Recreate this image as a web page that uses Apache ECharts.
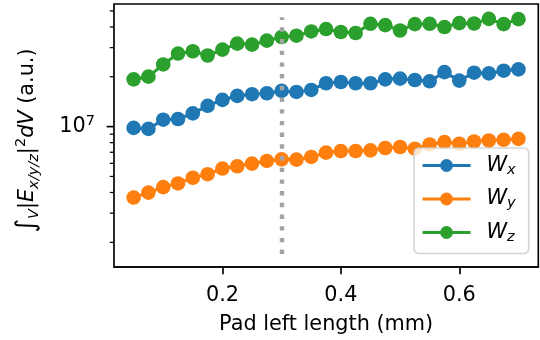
<!DOCTYPE html>
<html>
<head>
<meta charset="utf-8">
<script src="https://cdn.jsdelivr.net/npm/echarts@6/dist/echarts.min.js"></script>
<style>html,body{margin:0;padding:0;background:#fff}#c{width:540px;height:340px}</style>
</head>
<body>
<div id="c"></div>
<script>
// ---- data ----
const padLength = [0.05,0.075,0.1,0.125,0.15,0.175,0.2,0.225,0.25,0.275,0.3,0.325,0.35,0.375,0.4,0.425,0.45,0.475,0.5,0.525,0.55,0.575,0.6,0.625,0.65,0.675,0.7];
const Wx = [9.82e6,9.69e6,1.101e7,1.112e7,1.203e7,1.336e7,1.451e7,1.533e7,1.570e7,1.591e7,1.643e7,1.620e7,1.665e7,1.827e7,1.860e7,1.827e7,1.827e7,1.930e7,1.949e7,1.912e7,1.878e7,2.135e7,1.896e7,2.117e7,2.097e7,2.177e7,2.216e7];
const Wy = [3.727e6,3.993e6,4.312e6,4.537e6,4.909e6,5.160e6,5.580e6,5.760e6,5.978e6,6.205e6,6.344e6,6.318e6,6.557e6,6.962e6,7.126e6,7.126e6,7.185e6,7.426e6,7.528e6,7.354e6,7.803e6,8.065e6,7.879e6,8.131e6,8.244e6,8.324e6,8.437e6];
const Wz = [1.930e7,2.004e7,2.374e7,2.763e7,2.852e7,2.688e7,2.919e7,3.171e7,3.128e7,3.305e7,3.478e7,3.541e7,3.757e7,3.884e7,3.727e7,3.676e7,4.178e7,4.104e7,3.809e7,4.160e7,4.178e7,3.993e7,4.218e7,4.196e7,4.476e7,4.160e7,4.458e7];
const seriesNames = ['Wx','Wy','Wz'];
const seriesSubs = ['x','y','z'];
const xRange = [0.01686, 0.7335];
const yRange = [1.419e6, 5.504e7];
const xTicks = [0.2, 0.4, 0.6];
const yMajorTicks = [1e7];
const yMinorTicks = [2e6,3e6,4e6,5e6,6e6,7e6,8e6,9e6,2e7,3e7,4e7,5e7];
const refLineX = 0.3;
const refLineY = [1.70e6, 4.58e7];

const FONT = 'DejaVu Sans';
const FS = 20.8, FSS = 14.6;
const colors = ['#1f77b4','#ff7f0e','#2ca02c'];

const chart = echarts.init(document.getElementById('c'), null, {renderer:'canvas'});

function lineSeries(name, vals, i) {
  const s = {
    name, type:'line', data: padLength.map((x,k)=>[x, vals[k]]),
    symbol:'circle', symbolSize:14.6, showSymbol:true,
    lineStyle:{width:3.1, color:colors[i]},
    itemStyle:{color:colors[i]},
    emphasis:{disabled:true}, animation:false, z:2
  };
  if (i === 0) {
    s.markLine = {
      silent:true, symbol:['none','none'], label:{show:false},
      lineStyle:{color:'#a3a3a3', width:4.4, type:[4.4,7.3], cap:'butt'},
      data:[[{coord:[refLineX, refLineY[0]]},{coord:[refLineX, refLineY[1]]}]],
      animation:false
    };
  }
  return s;
}

const tickData = yMajorTicks.map(v=>[xRange[0], v, 1]).concat(yMinorTicks.map(v=>[xRange[0], v, 0]));

const option = {
  animation:false,
  backgroundColor:'#fff',
  textStyle:{fontFamily:FONT},
  grid:{left:114, top:4, right:1.7, bottom:70.7, show:true, borderColor:'#000', borderWidth:1.67, backgroundColor:'transparent'},
  xAxis:{
    type:'value', min:xRange[0], max:xRange[1],
    name:'Pad left length (mm)', nameLocation:'middle', nameGap:47,
    nameTextStyle:{fontFamily:FONT, fontSize:FS, color:'#000'},
    axisLine:{show:true, lineStyle:{color:'#000', width:1.67}},
    axisTick:{show:true, length:7.3, customValues:xTicks, lineStyle:{color:'#000', width:1.67}},
    axisLabel:{customValues:xTicks, margin:18, fontFamily:FONT, fontSize:FS, color:'#000', formatter:v=>v.toFixed(1)},
    splitLine:{show:false}
  },
  yAxis:{
    type:'log', logBase:10, min:yRange[0], max:yRange[1],
    name:'{i|∫}{sb|V}{n||}{it|E}{sb|x/y/z}{n||}{sp|2}{it|dV}{n| (a.u.)}',
    nameLocation:'middle', nameGap:72,
    nameTextStyle:{fontFamily:FONT, fontSize:FS, color:'#000', padding:[0,10,0,0],
      rich:{
        i:{fontFamily:FONT, fontSize:26, lineHeight:26, verticalAlign:'top'},
        n:{fontFamily:FONT, fontSize:FS, lineHeight:28},
        it:{fontFamily:FONT, fontSize:FS, fontStyle:'italic', lineHeight:28},
        sb:{fontFamily:FONT, fontSize:FSS, fontStyle:'italic', lineHeight:FSS, verticalAlign:'bottom'},
        sp:{fontFamily:FONT, fontSize:FSS, lineHeight:FSS, verticalAlign:'top'}
      }},
    axisLine:{show:false},
    axisTick:{show:false},
    axisLabel:{
      margin:19, showMinLabel:false, showMaxLabel:false,
      formatter:v=> (Math.abs(v/1e7-1)<1e-6 ? '{b|10}{e|7}' : ''),
      rich:{
        b:{fontFamily:FONT, fontSize:FS, color:'#000', lineHeight:26},
        e:{fontFamily:FONT, fontSize:FSS, color:'#000', lineHeight:FSS, verticalAlign:'top'}
      }
    },
    splitLine:{show:false}
  },
  legend:{
    data:seriesNames, orient:'vertical', left:414, top:148,
    padding:[7,13,9,7], itemGap:11, itemWidth:48, itemHeight:16,
    backgroundColor:'rgba(255,255,255,0.8)', borderColor:'rgba(204,204,204,0.8)', borderWidth:1.67, borderRadius:5,
    lineStyle:{width:3.1},
    formatter:name=>'{w|W}{s|'+seriesSubs[seriesNames.indexOf(name)]+'}',
    textStyle:{fontFamily:FONT, fontSize:FS, color:'#000',
      rich:{
        w:{fontFamily:FONT, fontSize:FS, fontStyle:'italic', lineHeight:24, padding:[0,0,0,11]},
        s:{fontFamily:FONT, fontSize:FSS, fontStyle:'italic', lineHeight:FSS, verticalAlign:'bottom'}
      }},
    selectedMode:false, z:10
  },
  series:[
    lineSeries('Wx', Wx, 0),
    lineSeries('Wy', Wy, 1),
    lineSeries('Wz', Wz, 2),
    {
      type:'custom', silent:true, clip:false, z:5,
      data:tickData,
      renderItem:(params, api)=>{
        const p = api.coord([api.value(0), api.value(1)]);
        const major = api.value(2) === 1;
        const len = major ? 7.3 : 4.2;
        return {type:'line', shape:{x1:p[0]-len, y1:p[1], x2:p[0], y2:p[1]},
          style:{stroke:'#000', lineWidth: major ? 1.67 : 1.25}};
      }
    }
  ]
};
chart.setOption(option);
</script>
</body>
</html>
